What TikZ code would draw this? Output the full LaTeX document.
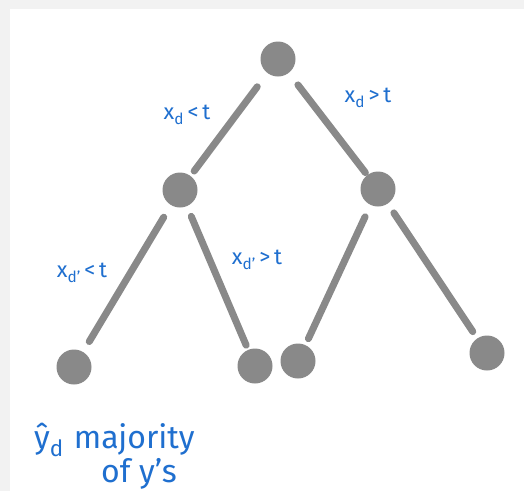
\documentclass[tikz,border=0pt]{standalone}
\usepackage{fontspec}
\setmainfont{Fira Sans}
\usetikzlibrary{positioning}
\definecolor{colNode}{HTML}{898989}
\definecolor{colPen} {HTML}{1F6FCF}
\definecolor{colFrame}{HTML}{F2F2F2}
\tikzset{
  %% tree node
  tnode/.style={circle, fill=colNode, minimum size=35pt, inner sep=0pt},
  %% branch between two nodes
  branch/.style={draw=colNode, line width=7pt, line cap=round},
  %% handwritten note
  pen/.style={text=colPen, inner sep=0pt,
              font=\fontsize{#1}{#1}\selectfont},
  pen/.default=22
}

\begin{document}
\begin{tikzpicture}[x=1pt, y=-1pt]

% frame
\fill[colFrame] (0,0) rectangle (524,491);
\fill[white] (10,9) rectangle (524,491);
\useasboundingbox (0,0) rectangle (524,491);

% nodes
\node[tnode] (root) at (278,59)  {};
\node[tnode] (l)    at (180,190) {};
\node[tnode] (r)    at (378,189) {};
\node[tnode] (ll)   at (74,367)  {};
\node[tnode] (lr)   at (255,366) {};
\node[tnode] (rl)   at (298,361) {};
\node[tnode] (rr)   at (487,353) {};

% branches
\draw[branch, shorten <=17pt, shorten >=6pt]  (root) -- (l);
\draw[branch, shorten <=15pt, shorten >=3pt]  (root) -- (r);
\draw[branch, shorten <=14pt, shorten >=12pt] (l) -- (ll);
\draw[branch, shorten <=11pt, shorten >=5pt]  (l) -- (lr);
\draw[branch, shorten <=13pt, shorten >=7pt]  (r) -- (rl);
\draw[branch, shorten <=11pt, shorten >=8pt]  (r) -- (rr);

% split labels
\node[pen] (splitL)  at (187,115) {x\textsubscript{d}\,<\,t};
\node[pen] (splitR)  at (368,98)  {x\textsubscript{d}\,>\,t};
\node[pen] (splitLL) at (82,273)  {x\textsubscript{d'}\,<\,t};
\node[pen] (splitLR) at (257,260) {x\textsubscript{d'}\,>\,t};

% leaf note
\node[pen=32, anchor=base west] (note) at (34,448)
     {ŷ\textsubscript{d}\hspace{10pt}majority};
\node[pen=32, anchor=base] (note2) at (139,482) {of y's};

\end{tikzpicture}
\end{document}
